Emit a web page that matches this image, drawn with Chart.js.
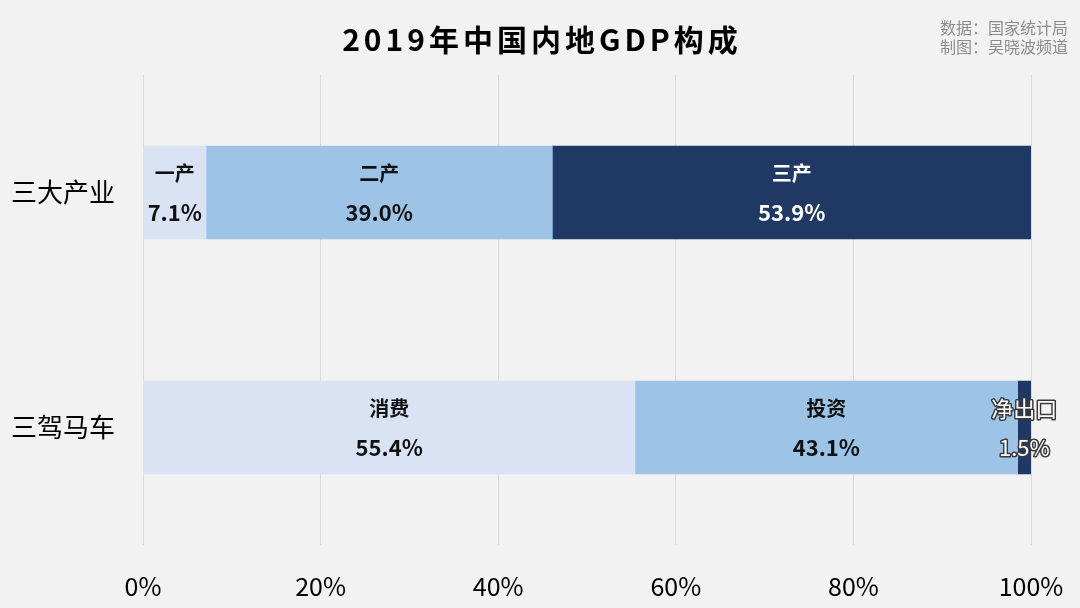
<!DOCTYPE html>
<html>
<head>
<meta charset="utf-8">
<script src="https://cdn.jsdelivr.net/npm/chart.js@4.4.1/dist/chart.umd.min.js"></script>
<style>
    html, body { margin: 0; padding: 0; background: #f2f2f2; }
    #wrap { width: 1080px; height: 608px; position: relative; }
</style>
</head>
<body>
<div id="wrap"><canvas id="gdpChart" width="1080" height="608"></canvas></div>
<script>
// 数据
const categories = ['三大产业', '三驾马车'];
const segmentNames = [
    ['一产', '二产', '三产'],
    ['消费', '投资', '净出口']
];
const part1 = [7.1, 55.4];
const part2 = [39.0, 43.1];
const part3 = [53.9, 1.5];
const xTicks = [0, 20, 40, 60, 80, 100];

const colors = ['#dae3f3', '#9dc3e6', '#203864'];
const FONT = '"Noto Sans CJK SC", "Noto Sans", sans-serif';

// 在柱子里写名称和百分比
const barLabels = {
    id: 'barLabels',
    afterDatasetsDraw(chart) {
        const ctx = chart.ctx;
        ctx.save();
        ctx.textAlign = 'center';
        ctx.textBaseline = 'middle';
        chart.data.datasets.forEach((ds, di) => {
            const meta = chart.getDatasetMeta(di);
            meta.data.forEach((bar, i) => {
                const cx = (bar.base + bar.x) / 2;
                const cy = bar.y;
                const name = segmentNames[i][di];
                const pct = ds.data[i].toFixed(1) + '%';
                const small = ds.data[i] < 3;
                if (small) {
                    // 太窄的段：白字描边
                    ctx.lineWidth = 3;
                    ctx.strokeStyle = '#3a3a3a';
                    ctx.fillStyle = '#ffffff';
                    ctx.lineJoin = 'round';
                    ctx.font = '22px ' + FONT;
                    ctx.strokeText(name, cx, cy - 19);
                    ctx.fillText(name, cx, cy - 19);
                    ctx.strokeText(pct, cx, cy + 20);
                    ctx.fillText(pct, cx, cy + 20);
                } else {
                    ctx.fillStyle = di === 2 ? '#ffffff' : '#111111';
                    ctx.font = 'bold 20px ' + FONT;
                    ctx.fillText(name, cx, cy - 19);
                    ctx.font = 'bold 22px ' + FONT;
                    ctx.fillText(pct, cx, cy + 20);
                }
            });
        });
        ctx.restore();
    }
};

// 标题和来源
const header = {
    id: 'header',
    afterDraw(chart) {
        const ctx = chart.ctx;
        ctx.save();
        ctx.fillStyle = '#000000';
        ctx.textAlign = 'center';
        ctx.textBaseline = 'middle';
        ctx.font = 'bold 30px ' + FONT;
        ctx.letterSpacing = '4px';
        ctx.fillText('2019年中国内地GDP构成', 542, 40);
        ctx.letterSpacing = '0px';
        ctx.fillStyle = '#8c8c8c';
        ctx.textAlign = 'right';
        ctx.font = '16px ' + FONT;
        ctx.fillText('数据：国家统计局', 1068, 28);
        ctx.fillText('制图：吴晓波频道', 1068, 47);
        ctx.restore();
    }
};

const ctx = document.getElementById('gdpChart').getContext('2d');
new Chart(ctx, {
    type: 'bar',
    data: {
        labels: categories,
        datasets: [part1, part2, part3].map((d, i) => ({
            data: d,
            backgroundColor: colors[i],
            borderWidth: 0,
            barThickness: 93
        }))
    },
    options: {
        indexAxis: 'y',
        responsive: false,
        animation: false,
        layout: { padding: { top: 75, right: 49, left: 0, bottom: 0 } },
        plugins: {
            legend: { display: false },
            tooltip: { enabled: false }
        },
        scales: {
            x: {
                stacked: true,
                min: 0,
                max: 100,
                afterBuildTicks(axis) {
                    axis.ticks = xTicks.map(v => ({ value: v }));
                },
                afterFit(axis) {
                    axis.height = 63;
                    axis.paddingLeft = 0;
                    axis.paddingRight = 0;
                },
                grid: { color: '#d9d9d9', drawTicks: false },
                border: { display: false },
                ticks: {
                    padding: 26,
                    color: '#000000',
                    font: { family: FONT, size: 25 },
                    callback: v => v + '%'
                }
            },
            y: {
                stacked: true,
                afterFit(axis) { axis.width = 143; },
                grid: { display: false, drawTicks: false },
                border: { display: false },
                ticks: {
                    padding: 28,
                    color: '#000000',
                    font: { family: FONT, size: 26 }
                }
            }
        }
    },
    plugins: [barLabels, header]
});
</script>
</body>
</html>
